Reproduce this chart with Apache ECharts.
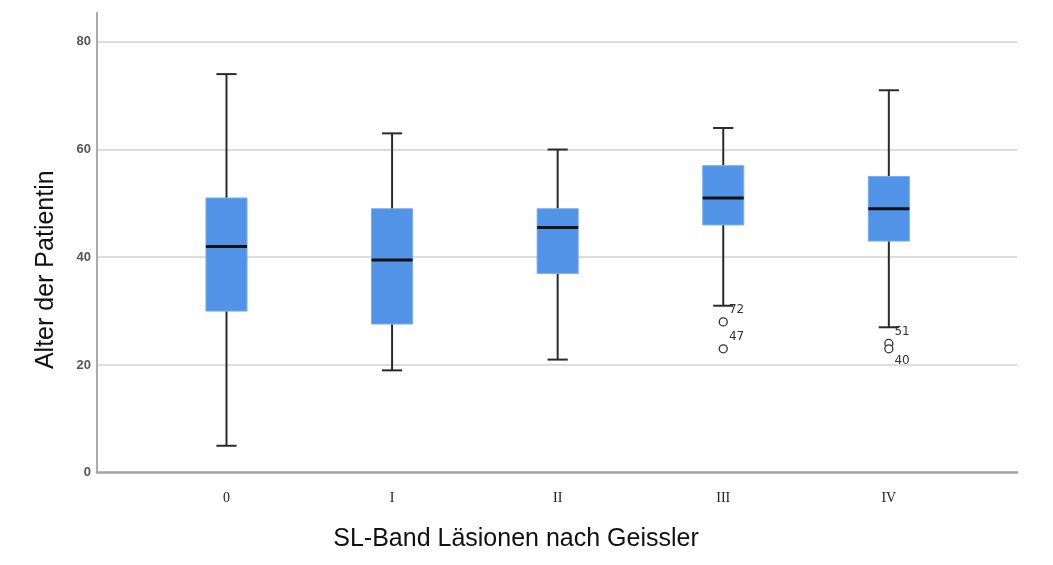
<!DOCTYPE html>
<html>
<head>
<meta charset="utf-8">
<script src="https://cdn.jsdelivr.net/npm/echarts@6/dist/echarts.min.js"></script>
<style>
html,body{margin:0;padding:0;background:#fff;}
#chart{width:1053px;height:565px;}
</style>
</head>
<body>
<div id="chart"></div>
<script>
// ---- data ----
const categories = ['0', 'I', 'II', 'III', 'IV'];
const whiskerLow  = [5, 19, 21, 31, 27];
const q1          = [30, 27.6, 37, 46, 43];
const median      = [42, 39.5, 45.5, 51, 49];
const q3          = [51, 49, 49, 57, 55];
const whiskerHigh = [74, 63, 60, 64, 71];
const outlierCategory = [3, 3, 4, 4];
const outlierValue    = [28, 23, 24, 23];
const outlierLabel    = ['72', '47', '51', '40'];
const yTicks = [0, 20, 40, 60, 80];
const xName = 'SL-Band Läsionen nach Geissler';
const yName = 'Alter der Patientin';

// ---- build ----
const boxData = categories.map((c, i) => [i, whiskerLow[i], q1[i], median[i], q3[i], whiskerHigh[i]]);
const outlierData = outlierValue.map((v, i) => {
  const cat = outlierCategory[i];
  // label goes below if another outlier of same category sits just above it
  const crowded = outlierValue.some((w, j) => j !== i && outlierCategory[j] === cat && w > v && w - v < 3);
  return {
    value: [cat, v],
    label: {
      formatter: outlierLabel[i],
      offset: crowded ? [0, 12] : [0, -12]
    }
  };
});

const chart = echarts.init(document.getElementById('chart'), null, {renderer: 'canvas'});
chart.setOption({
  backgroundColor: '#ffffff',
  animation: false,
  grid: {left: 97, right: 36, top: 12.7, bottom: 92.3, containLabel: false},
  xAxis: {
    type: 'value',
    min: -0.782,
    max: 4.774,
    name: xName,
    nameLocation: 'middle',
    nameGap: 54,
    nameTextStyle: {fontFamily: 'Liberation Sans', fontSize: 25, color: '#111', padding: [0, 82, 0, 0]},
    axisLine: {show: true, onZero: false, lineStyle: {color: '#a3a3a3', width: 2.5}},
    axisTick: {show: false},
    splitLine: {show: false},
    axisLabel: {
      customValues: categories.map((c, i) => i),
      formatter: v => categories[Math.round(v)],
      fontFamily: 'Liberation Serif',
      fontSize: 14,
      color: '#222',
      margin: 19
    }
  },
  yAxis: {
    type: 'value',
    min: yTicks[0],
    max: 85.4,
    interval: 20,
    name: yName,
    nameLocation: 'middle',
    nameGap: 38,
    nameTextStyle: {fontFamily: 'Liberation Sans', fontSize: 25, color: '#111', padding: [0, 54, 0, 0]},
    axisLine: {show: true, onZero: false, lineStyle: {color: '#8f8f8f', width: 1.5}},
    axisTick: {show: false},
    axisLabel: {
      showMaxLabel: false,
      formatter: v => (yTicks.indexOf(v) >= 0 ? String(v) : ''),
      fontFamily: 'Liberation Sans',
      fontWeight: 'bold',
      fontSize: 13,
      color: '#555',
      margin: 6
    },
    splitLine: {show: true, showMinLine: false, showMaxLine: false, lineStyle: {color: '#d2d2d2', width: 1.5}}
  },
  series: [
    {
      type: 'custom',
      data: boxData,
      encode: {x: 0, y: [1, 2, 3, 4, 5]},
      z: 3,
      renderItem: function (params, api) {
        const x = api.value(0);
        const lo = api.coord([x, api.value(1)]);
        const b1 = api.coord([x, api.value(2)]);
        const md = api.coord([x, api.value(3)]);
        const b3 = api.coord([x, api.value(4)]);
        const hi = api.coord([x, api.value(5)]);
        const band = api.size([1, 0])[0];
        const bw = band * 0.248;
        const cw = band * 0.122;
        const cx = lo[0];
        const ws = {stroke: '#2a2a2a', lineWidth: 2};
        return {
          type: 'group',
          children: [
            {type: 'line', shape: {x1: cx, y1: hi[1], x2: cx, y2: b3[1]}, style: ws},
            {type: 'line', shape: {x1: cx, y1: b1[1], x2: cx, y2: lo[1]}, style: ws},
            {type: 'line', shape: {x1: cx - cw / 2, y1: hi[1], x2: cx + cw / 2, y2: hi[1]}, style: ws},
            {type: 'line', shape: {x1: cx - cw / 2, y1: lo[1], x2: cx + cw / 2, y2: lo[1]}, style: ws},
            {type: 'rect', shape: {x: cx - bw / 2, y: b3[1], width: bw, height: b1[1] - b3[1]},
              style: {fill: '#5193e6', stroke: '#78adf0', lineWidth: 1}},
            {type: 'line', shape: {x1: cx - bw / 2, y1: md[1], x2: cx + bw / 2, y2: md[1]},
              style: {stroke: '#111', lineWidth: 3}}
          ]
        };
      }
    },
    {
      type: 'scatter',
      data: outlierData,
      z: 4,
      symbol: 'circle',
      symbolSize: 8,
      itemStyle: {color: '#ffffff', borderColor: '#333', borderWidth: 1.3, opacity: 1},
      label: {
        show: true,
        position: 'right',
        distance: 1,
        fontFamily: 'DejaVu Sans',
        fontSize: 12,
        color: '#333'
      }
    }
  ]
});
</script>
</body>
</html>
